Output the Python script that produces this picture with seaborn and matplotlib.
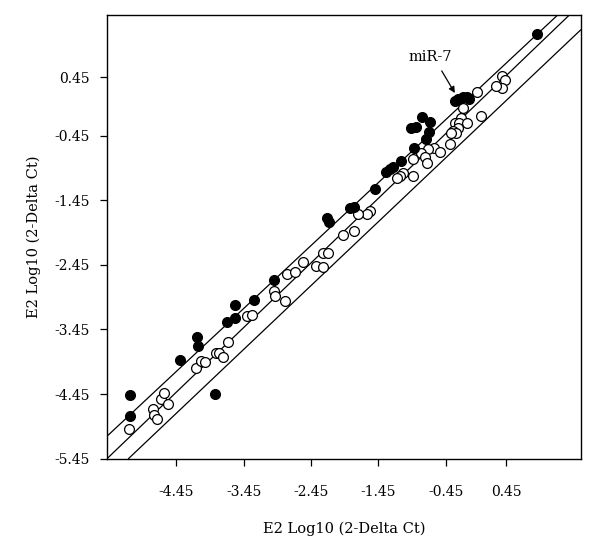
import numpy as np
import pandas as pd
import seaborn as sns
import matplotlib
matplotlib.use("Agg")
import matplotlib.pyplot as plt

# filled points
filled_x = [0.91, -0.32, -0.27, -0.20, -0.14, -0.10, -0.81, -0.68, -0.96, -0.89,
            -0.70, -0.75, -0.92, -1.12, -1.23, -1.28, -1.33, -1.50, -1.87, -1.81,
            -2.21, -2.19, -5.14, -5.14, -4.40, -4.15, -4.13, -3.88, -3.70, -3.58,
            -3.58, -3.29, -3.00]
filled_y = [1.12, 0.08, 0.12, 0.15, 0.14, 0.12, -0.16, -0.24, -0.33, -0.32,
            -0.39, -0.50, -0.64, -0.85, -0.94, -0.97, -1.02, -1.27, -1.57, -1.55,
            -1.72, -1.79, -4.46, -4.79, -3.93, -3.56, -3.70, -4.45, -3.33, -3.07,
            -3.27, -3.00, -2.69]

# open points
open_x = [0.39, 0.43, 0.39, 0.29, 0.02, -0.19, -0.23, -0.32, -0.25, -0.14,
          -0.27, -0.34, -0.30, -0.37, 0.07, -0.39, -0.63, -0.71, -0.82, -0.54,
          -0.76, -0.73, -0.93, -0.93, -1.08, -1.13, -1.18, -1.57, -1.62, -1.75,
          -1.97, -1.81, -5.15, -4.79, -4.78, -4.74, -4.68, -4.63, -4.58, -4.16,
          -4.08, -4.02, -3.86, -3.81, -3.76, -3.69, -3.40, -3.33, -3.00, -2.99,
          -2.83, -2.80, -2.69, -2.57, -2.37, -2.27, -2.28, -2.20]
open_y = [0.47, 0.41, 0.29, 0.31, 0.22, -0.03, -0.18, -0.25, -0.25, -0.26,
          -0.34, -0.38, -0.41, -0.41, -0.15, -0.58, -0.65, -0.66, -0.72, -0.71,
          -0.78, -0.87, -0.81, -1.07, -1.03, -1.07, -1.11, -1.61, -1.66, -1.67,
          -1.99, -1.93, -4.99, -4.68, -4.77, -4.84, -4.52, -4.44, -4.61, -4.04,
          -3.94, -3.95, -3.81, -3.82, -3.87, -3.64, -3.24, -3.23, -2.86, -2.93,
          -3.01, -2.59, -2.56, -2.41, -2.47, -2.48, -2.26, -2.26]

# reference lines: slope / intercept
line_slopes = [0.974, 1.0, 0.988]
line_intercepts = [0.235, 0.03, -0.35]

tick_vals = [-4.45, -3.45, -2.45, -1.45, -0.45, 0.45]
ytick_vals = [-5.45, -4.45, -3.45, -2.45, -1.45, -0.45, 0.45]

sns.set_style("ticks")
plt.rcParams['font.family'] = ['DejaVu Serif']
plt.rcParams.update({'text.color': 'black', 'axes.labelcolor': 'black',
                     'xtick.color': 'black', 'ytick.color': 'black',
                     'axes.edgecolor': 'black'})

fig = plt.figure(figsize=(6, 5.42), dpi=100)
ax = fig.add_axes([0.178, 0.1537, 0.790, 0.818])

for m, b in zip(line_slopes, line_intercepts):
    ax.axline((0, b), slope=m, color='black', lw=0.9, zorder=1)

df_open = pd.DataFrame({'x': open_x, 'y': open_y})
df_filled = pd.DataFrame({'x': filled_x, 'y': filled_y})
sns.scatterplot(data=df_open, x='x', y='y', ax=ax, s=50, color='white',
                edgecolor='black', linewidth=0.9, zorder=3)
sns.scatterplot(data=df_filled, x='x', y='y', ax=ax, s=50, color='black',
                edgecolor='black', linewidth=0.9, zorder=4)

ax.set_xlim(-5.483, 1.555)
ax.set_ylim(-5.45, 1.41)
ax.set_xticks(tick_vals)
ax.set_yticks(ytick_vals)
ax.set_xticklabels([f"{v:.2f}" for v in tick_vals])
ax.set_yticklabels([f"{v:.2f}" for v in ytick_vals])
ax.tick_params(axis='x', length=5, width=0.9, pad=14, labelsize=10)
ax.tick_params(axis='y', length=5, width=0.9, pad=7, labelsize=10)
for sp in ax.spines.values():
    sp.set_linewidth(1.0)
    sp.set_visible(True)
    sp.set_color('black')

ax.set_xlabel("E2 Log10 (2-Delta Ct)", fontsize=10.5, labelpad=16)
ax.set_ylabel("E2 Log10 (2-Delta Ct)", fontsize=10.5, labelpad=10)

ax.text(-0.686, 0.77, "miR-7", fontsize=10.5, ha='center', va='center')
ax.annotate("", xy=(-0.315, 0.208), xytext=(-0.51, 0.55),
            arrowprops=dict(arrowstyle='-|>', color='black', lw=0.9,
                            mutation_scale=9, shrinkA=0, shrinkB=0))

fig.savefig("out.png", dpi=100)
